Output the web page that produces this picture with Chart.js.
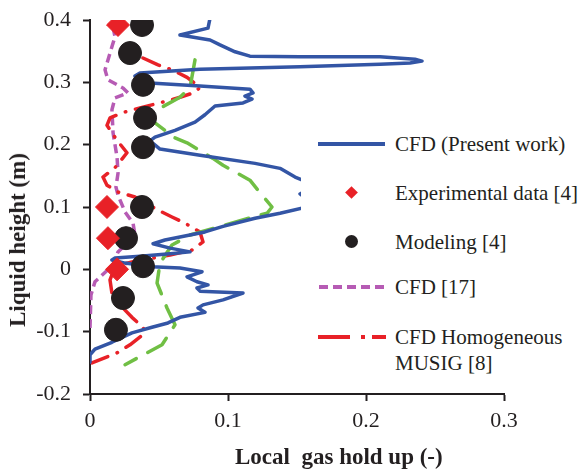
<!DOCTYPE html>
<html>
<head>
<meta charset="utf-8">
<script src="https://cdn.jsdelivr.net/npm/chart.js@4.4.0/dist/chart.umd.min.js"></script>
<style>
body { margin: 0; background: #fff; }
#wrap { position: relative; width: 582px; height: 475px; font-family: "Liberation Serif", "Times New Roman", serif; color: #231f20; }
#yTitle { position: absolute; left: 18px; top: 240px; transform: translate(-50%, -50%) rotate(-90deg); font-weight: bold; font-size: 23px; white-space: nowrap; line-height: 26px; }
#xTitle { position: absolute; left: 235px; top: 444px; font-weight: bold; font-size: 23px; white-space: pre; line-height: 26px; }
#legend { position: absolute; left: 301px; top: 122px; width: 281px; height: 256px; background: #fff; }
.item { position: absolute; left: 94px; font-size: 21px; line-height: 26px; white-space: nowrap; }
.sym { position: absolute; }
</style>
</head>
<body>
<div id="wrap">
  <canvas id="chart" width="582" height="475"></canvas>
  <div id="yTitle">Liquid height (m)</div>
  <div id="xTitle">Local  gas hold up (-)</div>
  <div id="legend">
    <div class="sym" style="left:17px;top:20px;width:67px;height:4px;background:#3355a5;"></div>
    <div class="item" style="top:9px;">CFD (Present work)</div>
    <div class="sym" style="left:46px;top:66px;width:9px;height:9px;background:#e82127;transform:rotate(45deg);"></div>
    <div class="item" style="top:58px;">Experimental data [4]</div>
    <div class="sym" style="left:44px;top:113px;width:13px;height:13px;border-radius:50%;background:#231f20;"></div>
    <div class="item" style="top:107px;">Modeling [4]</div>
    <div class="sym" style="left:18px;top:163px;width:67px;height:4px;background:repeating-linear-gradient(90deg,#b65bb4 0 9px,transparent 9px 14px);"></div>
    <div class="item" style="top:152px;">CFD [17]</div>
    <div class="sym" style="left:17px;top:213px;width:32px;height:4px;background:#e82127;"></div>
    <div class="sym" style="left:60px;top:213px;width:4px;height:4px;background:#e82127;"></div>
    <div class="sym" style="left:71px;top:213px;width:14px;height:4px;background:#e82127;"></div>
    <div class="item" style="top:202px;">CFD Homogeneous</div>
    <div class="item" style="top:228px;">MUSIG [8]</div>
  </div>
</div>
<script>
// axis ticks
const xTicks = [0, 0.1, 0.2, 0.3];
const yTicks = [-0.2, -0.1, 0, 0.1, 0.2, 0.3, 0.4];

// CFD (Present work)
const cfdHeight = [0.403, 0.387, 0.376, 0.368, 0.360, 0.349, 0.342, 0.341, 0.341, 0.337, 0.334, 0.331, 0.329, 0.325, 0.321, 0.315, 0.310,
  0.299, 0.294, 0.289, 0.283, 0.278, 0.273, 0.267, 0.262, 0.248, 0.236, 0.223, 0.212, 0.206, 0.193, 0.183, 0.170, 0.162, 0.148,
  0.135, 0.121, 0.103, 0.090, 0.082, 0.069, 0.060, 0.047, 0.041, 0.034, 0.028, 0.025, 0.021, 0.018, 0.015, 0.010, 0.004, 0.002,
  -0.004, -0.012, -0.020, -0.025, -0.030, -0.035, -0.038, -0.049, -0.057, -0.062, -0.069, -0.077, -0.086, -0.093, -0.102, -0.117,
  -0.128, -0.137, -0.149];
const cfdHoldup = [0.087, 0.0855, 0.0652, 0.087, 0.0942, 0.1051, 0.1159, 0.1522, 0.2101, 0.2355, 0.2406, 0.2319, 0.2101, 0.1522, 0.0797, 0.0362, 0.0326,
  0.0435, 0.0797, 0.1159, 0.1181, 0.1123, 0.1174, 0.1109, 0.0906, 0.0833, 0.0761, 0.0616, 0.0471, 0.0435, 0.0507, 0.0797, 0.1196, 0.1377, 0.1486,
  0.163, 0.1522, 0.163, 0.1377, 0.1196, 0.0964, 0.0833, 0.0543, 0.0457, 0.058, 0.0725, 0.058, 0.0362, 0.0181, 0.0159, 0.0254, 0.0449, 0.0652,
  0.0812, 0.0703, 0.0775, 0.0855, 0.0775, 0.0797, 0.1109, 0.0964, 0.0819, 0.0783, 0.0833, 0.0652, 0.0565, 0.0449, 0.0304, 0.0159,
  0.0036, 0.0, 0.0];

// unlabelled green dashed curve
const greenHeight = [0.336, 0.292, 0.276, 0.256, 0.246, 0.235, 0.211, 0.203, 0.178, 0.167, 0.143, 0.127, 0.100, 0.090, 0.084, 0.071,
  0.055, 0.039, 0.010, -0.022, -0.062, -0.089, -0.121, -0.153];
const greenHoldup = [0.0761, 0.0725, 0.0652, 0.0486, 0.0435, 0.0471, 0.0616, 0.0703, 0.0891, 0.0964, 0.1159, 0.1217, 0.1319, 0.1283, 0.1181, 0.0978,
  0.0725, 0.0594, 0.0507, 0.0486, 0.0558, 0.0616, 0.0522, 0.0254];

// CFD Homogeneous MUSIG [8]
const musigHeight = [0.339, 0.328, 0.320, 0.308, 0.292, 0.284, 0.276, 0.268, 0.259, 0.252, 0.243, 0.231, 0.207, 0.187, 0.163, 0.148,
  0.135, 0.124, 0.116, 0.095, 0.084, 0.074, 0.060, 0.044, 0.031, 0.023, 0.012, 0.004, -0.017, -0.038, -0.057, -0.077, -0.093,
  -0.102, -0.121, -0.134, -0.150];
const musigHoldup = [0.0384, 0.0493, 0.0594, 0.0703, 0.0797, 0.0761, 0.0652, 0.0522, 0.0362, 0.0246, 0.0145, 0.0123, 0.0196, 0.0268, 0.0181, 0.0094,
  0.0123, 0.0203, 0.0326, 0.0493, 0.0594, 0.0688, 0.0797, 0.0819, 0.0739, 0.058, 0.0304, 0.0181, 0.0145, 0.0159, 0.0217, 0.0304, 0.0384,
  0.0399, 0.029, 0.0196, 0.0014];

// CFD [17]
const cfd17Height = [0.389, 0.373, 0.347, 0.320, 0.304, 0.291, 0.283, 0.275, 0.256, 0.219, 0.180, 0.154, 0.132, 0.119, 0.092, 0.074,
  0.055, 0.039, 0.028, 0.007, -0.020, -0.041, -0.094];
const cfd17Holdup = [0.0167, 0.0181, 0.0145, 0.0109, 0.013, 0.0239, 0.0275, 0.0181, 0.0159, 0.0167, 0.0196, 0.0203, 0.0188, 0.0203, 0.0254, 0.0312,
  0.0326, 0.0254, 0.0203, 0.0167, 0.0036, 0.0007, 0.0];

// Experimental data [4]
const expHeight = [0.392, 0.100, 0.050, 0.0];
const expHoldup = [0.0203, 0.0123, 0.013, 0.0196];

// Modeling [4]
const modHeight = [0.392, 0.347, 0.296, 0.243, 0.196, 0.100, 0.050, 0.005, -0.046, -0.097];
const modHoldup = [0.0377, 0.029, 0.0384, 0.0399, 0.0384, 0.0377, 0.0261, 0.0384, 0.0239, 0.0188];

const toPoints = (xs, ys) => xs.map((x, i) => ({ x: x, y: ys[i] }));

const lineSet = (label, xs, ys, color, dash, cap) => ({
  label: label,
  data: toPoints(xs, ys),
  showLine: true,
  borderColor: color,
  borderWidth: 3.5,
  borderDash: dash,
  borderCapStyle: cap,
  borderJoinStyle: 'round',
  pointRadius: 0,
  tension: 0,
  order: 2
});

const axisText = '#231f20';
const tickFont = { family: 'Liberation Serif', size: 22 };

new Chart(document.getElementById('chart').getContext('2d'), {
  type: 'scatter',
  data: {
    datasets: [
      lineSet('CFD (Present work)', cfdHoldup, cfdHeight, '#3355a5', [], 'round'),
      lineSet('', greenHoldup, greenHeight, '#70bf44', [24, 13], 'round'),
      lineSet('CFD Homogeneous MUSIG [8]', musigHoldup, musigHeight, '#e82127', [18, 10, 0.5, 10], 'round'),
      lineSet('CFD [17]', cfd17Holdup, cfd17Height, '#b65bb4', [9, 5], 'butt'),
      {
        label: 'Experimental data [4]',
        data: toPoints(expHoldup, expHeight),
        pointStyle: 'rectRot',
        pointRadius: 11.5,
        backgroundColor: '#e82127',
        borderColor: '#e82127',
        borderWidth: 1,
        order: 0
      },
      {
        label: 'Modeling [4]',
        data: toPoints(modHoldup, modHeight),
        pointStyle: 'circle',
        pointRadius: 11.5,
        backgroundColor: '#231f20',
        borderColor: '#231f20',
        borderWidth: 1,
        order: 0
      }
    ]
  },
  options: {
    responsive: false,
    animation: false,
    devicePixelRatio: 1,
    layout: { padding: { top: 20, right: 78, left: 0, bottom: 0 } },
    plugins: { legend: { display: false }, tooltip: { enabled: false } },
    scales: {
      x: {
        type: 'linear',
        min: 0,
        max: 0.3,
        afterBuildTicks: s => { s.ticks = xTicks.map(v => ({ value: v })); },
        afterFit: s => { s.height = 81; s.paddingLeft = 0; s.paddingRight = 0; },
        grid: { drawOnChartArea: false, drawTicks: true, tickLength: 7, tickColor: axisText, tickWidth: 2 },
        border: { display: true, color: axisText, width: 2 },
        ticks: { color: axisText, font: tickFont, padding: 7, maxRotation: 0, callback: v => String(Math.round(v * 10) / 10) }
      },
      y: {
        type: 'linear',
        min: -0.2,
        max: 0.4,
        afterBuildTicks: s => { s.ticks = yTicks.map(v => ({ value: v })); },
        afterFit: s => { s.width = 90; s.paddingTop = 0; s.paddingBottom = 0; },
        grid: { drawOnChartArea: false, drawTicks: true, tickLength: 7, tickColor: axisText, tickWidth: 2 },
        border: { display: true, color: axisText, width: 2 },
        ticks: { color: axisText, font: tickFont, padding: 12, callback: v => String(Math.round(v * 10) / 10) }
      }
    }
  }
});
</script>
</body>
</html>
